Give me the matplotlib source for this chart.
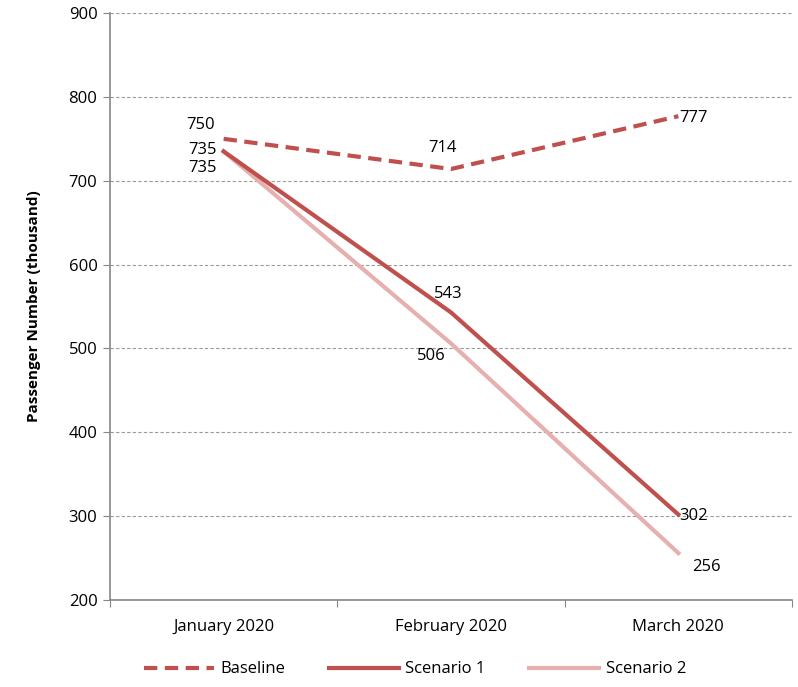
import matplotlib
matplotlib.use("Agg")
import matplotlib.pyplot as plt

plt.rcParams['font.family'] = ['Open Sans', 'DejaVu Sans']

months = ["January 2020", "February 2020", "March 2020"]
baseline = [750, 714, 777]
scenario1 = [735, 543, 302]
scenario2 = [735, 506, 256]

fig = plt.figure(figsize=(7.98, 6.87), dpi=100)
ax = fig.add_axes([0.1378, 0.1266, 0.8547, 0.8544])

x = list(range(len(months)))
c_base = "#C0504D"
c_s1 = "#C0504D"
c_s2 = "#E6B0AE"

ax.plot(x, baseline, color=c_base, lw=3, ls=(0, (3.2, 1.8)), label="Baseline", zorder=3)
ax.plot(x, scenario1, color=c_s1, lw=3, label="Scenario 1", zorder=3)
ax.plot(x, scenario2, color=c_s2, lw=3, label="Scenario 2", zorder=2)

ax.set_xlim(-0.5, 2.5)
ax.set_ylim(200, 900)
ax.set_yticks(range(200, 901, 100))
ax.set_xticks([-0.5, 0.5, 1.5, 2.5])
ax.set_xticklabels([])
ax.set_xticks(x, minor=True)
ax.set_xticklabels(months, minor=True)
ax.tick_params(axis='x', which='minor', length=0, pad=14, labelsize=12)
ax.tick_params(axis='x', which='major', length=5, color="#868686", direction='out')
ax.tick_params(axis='y', length=5, color="#868686", labelsize=12, pad=4)

ax.grid(axis='y', ls=(0, (3, 2)), color="#9A9A9A", lw=0.8)
ax.set_axisbelow(True)
for s in ['top', 'right']:
    ax.spines[s].set_visible(False)
for s in ['left', 'bottom']:
    ax.spines[s].set_color("#868686")
    ax.spines[s].set_linewidth(1.2)

ax.set_ylabel("Passenger Number (thousand)", fontweight='bold', fontsize=11, labelpad=20)

fs = 12
# Baseline labels
ax.annotate(str(baseline[0]), (x[0], baseline[0]), xytext=(-6, 10), textcoords='offset points', ha='right', va='center', fontsize=fs)
ax.annotate(str(baseline[1]), (x[1], baseline[1]), xytext=(-6, 15), textcoords='offset points', ha='center', va='center', fontsize=fs)
ax.annotate(str(baseline[2]), (x[2], baseline[2]), xytext=(1, -1), textcoords='offset points', ha='left', va='center', fontsize=fs)
# Scenario 1
ax.annotate(str(scenario1[0]), (x[0], scenario1[0]), xytext=(-5, 1), textcoords='offset points', ha='right', va='center', fontsize=fs)
ax.annotate(str(scenario1[1]), (x[1], scenario1[1]), xytext=(-2, 13), textcoords='offset points', ha='center', va='center', fontsize=fs)
ax.annotate(str(scenario1[2]), (x[2], scenario1[2]), xytext=(1, -1), textcoords='offset points', ha='left', va='center', fontsize=fs)
# Scenario 2
ax.annotate(str(scenario2[0]), (x[0], scenario2[0]), xytext=(-5, -12), textcoords='offset points', ha='right', va='center', fontsize=fs)
ax.annotate(str(scenario2[1]), (x[1], scenario2[1]), xytext=(-14, -9), textcoords='offset points', ha='center', va='center', fontsize=fs)
ax.annotate(str(scenario2[2]), (x[2], scenario2[2]), xytext=(10, -10), textcoords='offset points', ha='left', va='center', fontsize=fs)

leg = fig.legend(loc='lower center', bbox_to_anchor=(0.52, -0.008), ncol=3, frameon=False,
                 fontsize=12, handlelength=4.2, columnspacing=2.6, handletextpad=0.4)

fig.savefig("out.png", dpi=100)
